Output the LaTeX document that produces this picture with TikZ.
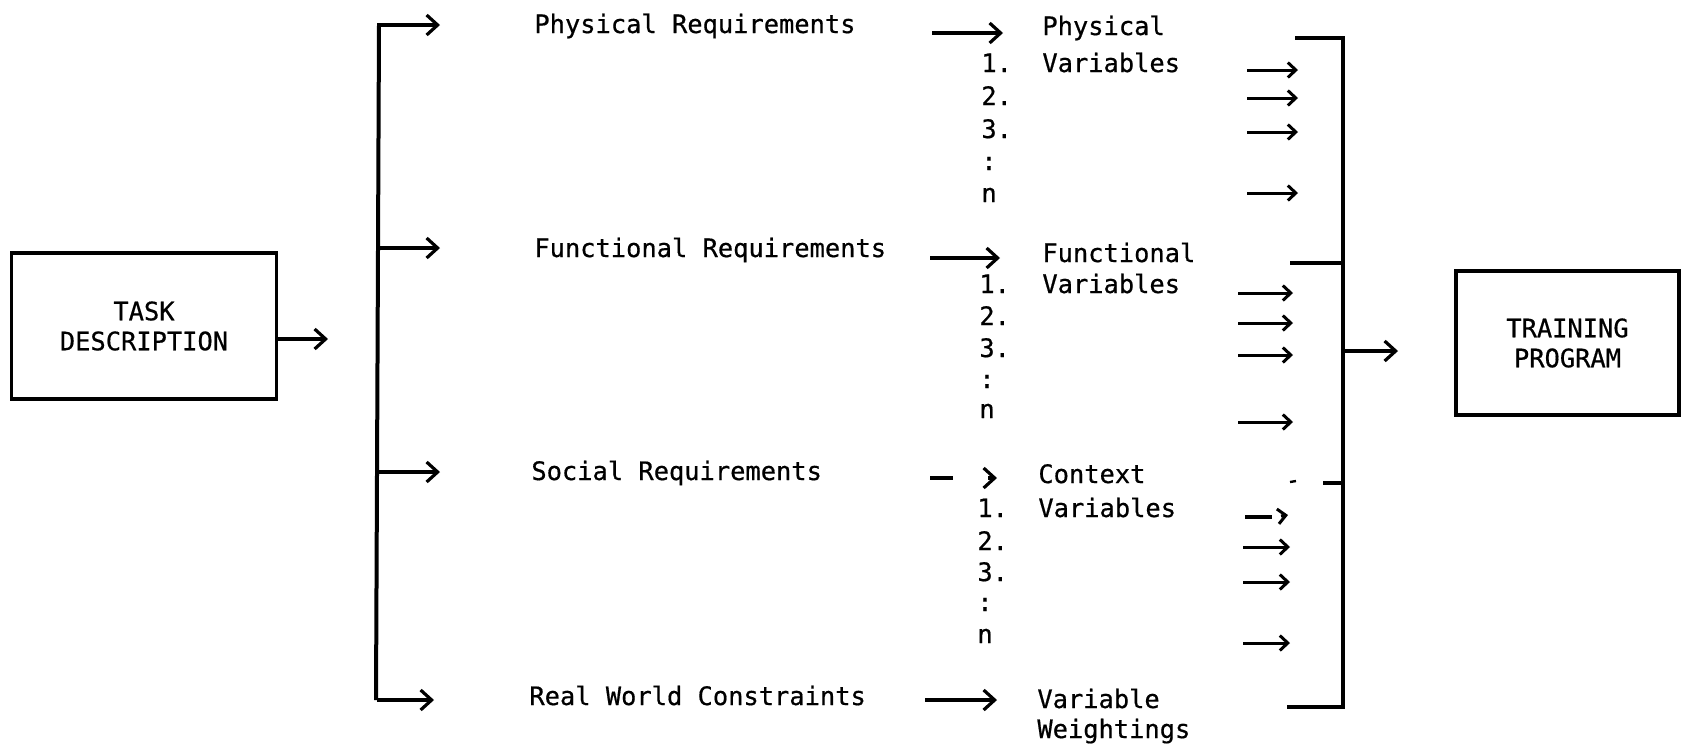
\documentclass[tikz,border=0pt]{standalone}
\usepackage{fontspec}
\newfontfamily\tw{DejaVu Sans Mono}[FakeBold=0.6]
\usetikzlibrary{arrows.meta}
\begin{document}
\begin{tikzpicture}[x=0.5pt,y=-0.5pt,
  txt/.style={font=\tw\fontsize{12.7}{16}\selectfont, inner sep=0pt, anchor=base west},
  box/.style={draw, line width=1.8pt, font=\tw\fontsize{12.7}{15}\selectfont, align=center, inner sep=0pt},
  trunk/.style={line width=2pt},
  bigarr/.style={line width=1.6pt, -{Straight Barb[length=5.5pt,width=10pt]}},
  smallarr/.style={line width=1.5pt, -{Straight Barb[length=4pt,width=7.5pt]}},
  plain/.style={line width=1.6pt}
]
\useasboundingbox (0,0) rectangle (1682,751);

% boxes
\node[box, minimum width=132.5pt, minimum height=73pt] (task) at (144,326) {TASK\\DESCRIPTION};
\node[box, minimum width=111.5pt, minimum height=72pt] (train) at (1567.5,343) {TRAINING\\PROGRAM};

% requirement texts
\node[txt] (req1) at (534,33) {Physical Requirements};
\node[txt] (req2) at (534,257) {Functional Requirements};
\node[txt] (req3) at (531,480) {Social Requirements};
\node[txt] (req4) at (529,705) {Real World Constraints};

% variable headings
\node[txt] (v1a) at (1042,35) {Physical};
\node[txt] (v1b) at (1042,72) {Variables};
\node[txt] (v2a) at (1042,262) {Functional};
\node[txt] (v2b) at (1042,293) {Variables};
\node[txt] (v3a) at (1038,483) {Context};
\node[txt] (v3b) at (1038,517) {Variables};
\node[txt] (v4a) at (1037,708) {Variable};
\node[txt] (v4b) at (1037,738) {Weightings};

% numbered lists
\foreach \b/\ya/\yb/\yc/\yd/\ye/\xx in {1/72/105/138/170/202/981, 2/293/325/357/388/418/979, 3/517/550/581/611/643/977}{
  \node[txt] (n\b a) at (\xx,\ya) {1.};
  \node[txt] (n\b b) at (\xx,\yb) {2.};
  \node[txt] (n\b c) at (\xx,\yc) {3.};
  \node[txt] (n\b d) at (\xx,\yd) {:};
  \node[txt] (n\b e) at (\xx,\ye) {n};
}

% task output
\coordinate (taskout) at (328,339);
\draw[bigarr] (task.east |- taskout) -- (taskout);

% left trunk
\coordinate (t1) at (379,25);
\coordinate (t4) at (376,700);
\draw[trunk] (t1) -- (t4);
\foreach \y/\n/\e in {25/1/440,248/2/440,472/3/440,700/4/434}{
  \coordinate (ts\n) at (377,\y);
  \coordinate (te\n) at (\e,\y);
  \draw[bigarr] (ts\n) -- (te\n);
}

% requirement -> variables arrows
\coordinate (a1s) at (932,33); \coordinate (a1e) at (1003,33);
\draw[bigarr] (a1s) -- (a1e);
\coordinate (a2s) at (930,258); \coordinate (a2e) at (1000,258);
\draw[bigarr] (a2s) -- (a2e);
\coordinate (a3s) at (930,478); \coordinate (a3m) at (953,478);
\coordinate (a3h) at (988,478); \coordinate (a3e) at (997,478);
\draw[plain] (a3s) -- (a3m);
\draw[bigarr] (a3h) -- (a3e);
\coordinate (a4s) at (925,700); \coordinate (a4e) at (997,700);
\draw[bigarr] (a4s) -- (a4e);

% small right arrows
\foreach \y/\k in {70/1,98/2,132/3,193/4}{
  \coordinate (p\k s) at (1247,\y); \coordinate (p\k e) at (1298,\y);
  \draw[smallarr] (p\k s) -- (p\k e);
}
\foreach \y/\k in {293/1,323/2,355/3,422/4}{
  \coordinate (f\k s) at (1238,\y); \coordinate (f\k e) at (1293,\y);
  \draw[smallarr] (f\k s) -- (f\k e);
}
\foreach \y/\k in {547/2,582/3,643/4}{
  \coordinate (c\k s) at (1243,\y); \coordinate (c\k e) at (1290,\y);
  \draw[smallarr] (c\k s) -- (c\k e);
}
\coordinate (c1s) at (1245,517); \coordinate (c1m) at (1272,517);
\coordinate (c1h) at (1281,516); \coordinate (c1e) at (1288,515);
\draw[plain] (c1s) -- (c1m);
\draw[smallarr] (c1h) -- (c1e);

% right bracket
\coordinate (b1) at (1295,38);
\coordinate (bx) at (1343,707);
\coordinate (b4) at (1287,707);
\draw[trunk] (b1) -| (bx) -- (b4);
\coordinate (b2s) at (1290,263); \coordinate (b2e) at (1343,263);
\draw[trunk] (b2s) -- (b2e);
\coordinate (b3s) at (1323,483); \coordinate (b3e) at (1343,483);
\draw[trunk] (b3s) -- (b3e);
\coordinate (b3ds) at (1290,482); \coordinate (b3de) at (1296,481);
\draw[line width=1.2pt] (b3ds) -- (b3de);

% output arrow
\coordinate (os) at (1343,351); \coordinate (oe) at (1398,351);
\draw[bigarr] (os) -- (oe);
\end{tikzpicture}
\end{document}
